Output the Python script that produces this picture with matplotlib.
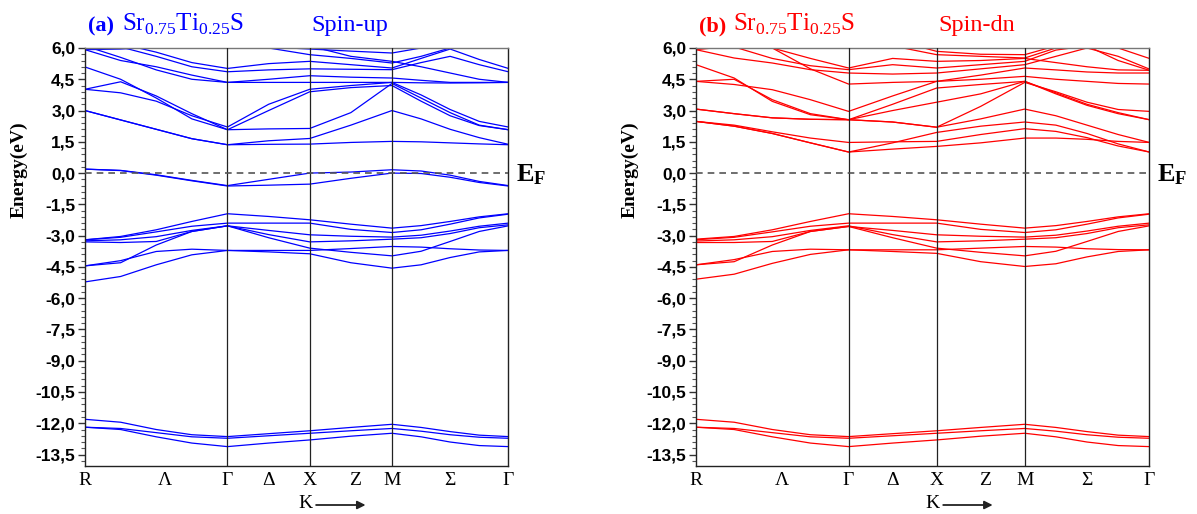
import numpy as np
import matplotlib
matplotlib.use("Agg")
import matplotlib.pyplot as plt
from matplotlib.ticker import FixedLocator, MultipleLocator

plt.rcParams['mathtext.fontset'] = 'custom'
plt.rcParams['mathtext.rm'] = 'Liberation Serif'
plt.rcParams['mathtext.bf'] = 'Liberation Serif:bold'

# ---------------- data ----------------
kpath_labels = ["R", "Γ", "X", "M", "Γ"]
seg_lengths = [np.sqrt(3), 1.0, 1.0, np.sqrt(2)]
seg_fracs = [[0, 0.25, 0.5, 0.75, 1.0], [0.5, 1.0], [0.5, 1.0], [0.25, 0.5, 0.75, 1.0]]
mid_labels = ["Λ", "Δ", "Z", "Σ"]
mid_label_fracs = [0.56, 0.5, 0.55, 0.5]

# energies (eV) at: R, .25, .5, .75, Γ | ΓX-mid, X | XM-mid, M | .25, .5, .75, Γ
cond_up = [
    [3.00, 2.55, 2.10, 1.65, 1.36, 1.38, 1.39, 1.47, 1.52, 1.50, 1.45, 1.40, 1.36],
    [3.00, 2.55, 2.10, 1.65, 1.36, 1.55, 1.66, 2.30, 3.00, 2.60, 2.10, 1.70, 1.38],
    [5.09, 4.50, 3.60, 2.60, 2.08, 2.12, 2.14, 2.90, 4.30, 3.60, 2.90, 2.30, 2.08],
    [4.02, 4.38, 3.70, 2.85, 2.08, 3.00, 3.90, 4.10, 4.20, 3.45, 2.75, 2.28, 2.08],
    [4.02, 3.85, 3.45, 2.75, 2.21, 3.30, 4.02, 4.20, 4.35, 3.75, 3.05, 2.48, 2.21],
    [5.92, 5.40, 5.10, 4.70, 4.35, 4.35, 4.35, 4.35, 4.35, 4.33, 4.32, 4.33, 4.35],
    [6.10, 5.55, 4.95, 4.50, 4.35, 4.50, 4.67, 4.60, 4.56, 4.45, 4.35, 4.35, 4.35],
    [6.30, 6.05, 5.60, 5.10, 4.86, 4.95, 5.00, 4.98, 4.96, 5.30, 5.60, 5.20, 4.86],
    [6.50, 6.20, 5.80, 5.30, 5.02, 5.25, 5.36, 5.20, 5.04, 5.50, 5.95, 5.45, 5.02],
    [5.92, 5.95, 6.05, 6.20, 6.30, 6.00, 5.68, 5.50, 5.28, 5.60, 6.00, 6.20, 6.40],
    [6.80, 6.60, 6.40, 6.30, 6.20, 6.05, 5.95, 5.85, 5.76, 6.00, 6.20, 6.40, 6.60],
    [6.90, 6.70, 6.50, 6.40, 6.40, 6.20, 6.10, 5.60, 5.36, 5.10, 4.80, 4.50, 4.35],
]
val_up = [
    [0.19, 0.13, -0.08, -0.35, -0.60, -0.30, 0.00, 0.05, 0.16, 0.10, -0.10, -0.40, -0.60],
    [0.19, 0.12, -0.10, -0.37, -0.62, -0.58, -0.53, -0.25, 0.00, -0.02, -0.20, -0.45, -0.62],
    [-3.20, -3.04, -2.72, -2.32, -1.95, -2.08, -2.24, -2.45, -2.64, -2.52, -2.32, -2.10, -1.95],
    [-3.20, -3.08, -2.82, -2.55, -2.40, -2.40, -2.40, -2.70, -2.85, -2.72, -2.45, -2.15, -1.97],
    [-3.30, -3.33, -3.28, -2.80, -2.53, -2.75, -2.96, -3.03, -3.07, -2.98, -2.78, -2.55, -2.40],
    [-3.25, -3.20, -3.05, -2.75, -2.53, -2.95, -3.30, -3.25, -3.17, -3.10, -2.90, -2.62, -2.48],
    [-4.45, -4.30, -3.45, -2.80, -2.53, -3.10, -3.60, -3.80, -3.97, -3.75, -3.28, -2.80, -2.53],
    [-4.45, -4.20, -3.76, -3.65, -3.71, -3.71, -3.71, -3.62, -3.52, -3.55, -3.63, -3.69, -3.71],
    [-5.22, -4.96, -4.40, -3.92, -3.71, -3.78, -3.87, -4.30, -4.56, -4.40, -4.05, -3.78, -3.71],
]
core = [
    [-11.81, -11.95, -12.30, -12.55, -12.64, -12.50, -12.36, -12.20, -12.05, -12.20, -12.40, -12.57, -12.64],
    [-12.19, -12.25, -12.45, -12.65, -12.72, -12.60, -12.48, -12.36, -12.25, -12.38, -12.55, -12.67, -12.72],
    [-12.19, -12.30, -12.65, -12.95, -13.12, -12.95, -12.80, -12.62, -12.48, -12.65, -12.90, -13.07, -13.12],
]
cond_dn = [
    [2.48, 2.25, 1.90, 1.45, 1.01, 1.15, 1.28, 1.45, 1.68, 1.68, 1.62, 1.52, 1.47],
    [2.48, 2.25, 1.90, 1.45, 1.01, 1.45, 1.95, 2.25, 2.45, 2.30, 1.90, 1.40, 1.01],
    [2.48, 2.30, 1.98, 1.68, 1.47, 1.50, 1.52, 1.85, 2.13, 2.00, 1.70, 1.30, 1.01],
    [3.07, 2.85, 2.65, 2.58, 2.56, 2.45, 2.20, 2.60, 3.07, 2.75, 2.30, 1.85, 1.47],
    [3.07, 2.85, 2.65, 2.58, 2.56, 2.45, 2.20, 3.20, 4.35, 3.90, 3.40, 3.05, 2.96],
    [4.40, 4.50, 3.52, 2.85, 2.56, 3.30, 4.08, 4.25, 4.40, 3.80, 3.25, 2.85, 2.56],
    [4.40, 4.25, 4.00, 3.52, 2.96, 3.70, 4.40, 4.50, 4.64, 4.50, 4.40, 4.30, 4.27],
    [5.20, 4.56, 3.44, 2.80, 2.56, 3.00, 3.40, 3.80, 4.40, 3.85, 3.30, 2.90, 2.56],
    [5.92, 5.52, 5.28, 4.96, 4.80, 4.75, 4.80, 5.00, 5.20, 5.60, 6.00, 5.60, 4.99],
    [6.80, 6.40, 6.00, 5.00, 4.27, 4.35, 4.40, 4.70, 5.04, 4.95, 4.85, 4.80, 4.80],
    [6.30, 6.05, 5.50, 5.15, 4.96, 5.20, 5.04, 5.20, 5.36, 5.90, 6.10, 5.40, 4.93],
    [6.60, 6.30, 6.00, 5.50, 5.04, 5.50, 5.36, 5.40, 5.50, 5.30, 5.10, 4.95, 4.93],
    [6.10, 6.00, 6.20, 6.50, 6.60, 6.10, 5.68, 5.60, 5.52, 6.00, 6.30, 6.00, 5.50],
    [5.92, 6.10, 6.40, 6.60, 6.80, 6.40, 5.84, 5.70, 5.68, 6.10, 6.50, 6.50, 6.50],
]
val_dn = [
    [-3.17, -3.04, -2.72, -2.32, -1.95, -2.08, -2.24, -2.45, -2.64, -2.52, -2.32, -2.10, -1.95],
    [-3.20, -3.08, -2.82, -2.55, -2.40, -2.40, -2.40, -2.70, -2.85, -2.72, -2.45, -2.15, -1.97],
    [-3.33, -3.33, -3.28, -2.80, -2.56, -2.75, -2.96, -3.03, -3.07, -2.98, -2.78, -2.55, -2.40],
    [-3.26, -3.20, -3.05, -2.75, -2.53, -2.95, -3.30, -3.25, -3.17, -3.10, -2.90, -2.62, -2.48],
    [-4.40, -4.25, -3.45, -2.80, -2.56, -3.10, -3.60, -3.80, -3.97, -3.75, -3.28, -2.80, -2.53],
    [-4.40, -4.15, -3.76, -3.65, -3.68, -3.68, -3.68, -3.60, -3.52, -3.55, -3.63, -3.67, -3.68],
    [-5.09, -4.85, -4.33, -3.90, -3.68, -3.76, -3.85, -4.25, -4.48, -4.35, -4.02, -3.76, -3.68],
]

# ---------------- k coordinates ----------------
sym_k = np.concatenate([[0], np.cumsum(seg_lengths)])
ks = []
for i, fr in enumerate(seg_fracs):
    for f in fr:
        ks.append(sym_k[i] + f * seg_lengths[i])
ks = np.array(ks)

W, H = 1197, 514
fig = plt.figure(figsize=(W / 100, H / 100), dpi=100)

serif = 'Liberation Serif'
sans = 'Liberation Sans'


def fmt(v):
    s = f"{v:.1f}".replace('.', ',')
    return "0,0" if s in ("-0,0",) else s


def panel(left_px, width_px, bands, color, tag, spin):
    ax = fig.add_axes([left_px / W, 1 - 466 / H, width_px / W, 418 / H])
    for group in bands:
        for b in group:
            ax.plot(ks, b, color=color, lw=0.9, solid_joinstyle='round')
    for kx in sym_k[1:-1]:
        ax.axvline(kx, color='#222222', lw=0.9, zorder=3)
    ax.axhline(0, color='#555555', lw=1.2, ls=(0, (4, 3)), zorder=3)
    ax.set_xlim(0, sym_k[-1])
    ax.set_ylim(-14.05, 6.0)
    majors = np.arange(-13.5, 6.01, 1.5)
    ax.yaxis.set_major_locator(FixedLocator(majors))
    ax.set_yticklabels([fmt(v) for v in majors], fontfamily=sans,
                       fontweight='bold', fontsize=12.5)
    ax.yaxis.set_minor_locator(MultipleLocator(0.3))
    ax.tick_params(axis='y', which='major', length=5, width=1.0, color='#333333', pad=2)
    ax.tick_params(axis='y', which='minor', length=3, width=0.8, color='#555555')
    xt = list(sym_k)
    xl = list(kpath_labels)
    for i, (lab, fr) in enumerate(zip(mid_labels, mid_label_fracs)):
        xt.append(sym_k[i] + fr * seg_lengths[i])
        xl.append(lab)
    ax.set_xticks(xt)
    ax.set_xticklabels(xl, fontfamily=serif, fontsize=14)
    ax.tick_params(axis='x', length=0, pad=4)
    for s in ax.spines.values():
        s.set_linewidth(1.0)
        s.set_color('#222222')
    ax.spines['top'].set_color('#777777')
    # texts
    x0 = left_px
    fig.text((x0 + 3) / W, 1 - 31 / H, tag, color=color, fontfamily=serif,
             fontweight='bold', fontsize=16)
    fig.text((x0 + 37) / W, 1 - 31 / H, r"Sr$_{0.75}$Ti$_{0.25}$S", color=color,
             fontfamily=serif, fontsize=18)
    fig.text((x0 + width_px * 0.535) / W, 1 - 31 / H, spin, color=color,
             fontfamily=serif, fontsize=17.5)
    fig.text((x0 - 66) / W, 1 - 170 / H, "Energy(eV)", rotation=90, ha='center',
             va='center', fontfamily=serif, fontweight='bold', fontsize=14)
    fig.text((x0 + width_px + 8) / W, 1 - 174 / H, r"$\mathbf{E_F}$", ha='left',
             va='center', fontsize=19, color='black')
    kx_px = x0 + width_px * 0.537
    fig.text(kx_px / W, 1 - 504 / H, "K", ha='right', va='center',
             fontfamily=serif, fontsize=14)
    fig.add_artist(matplotlib.patches.FancyArrowPatch(
        ((kx_px + 1) / W, 1 - 505 / H), ((kx_px + 56) / W, 1 - 505 / H),
        transform=fig.transFigure, arrowstyle='-|>', mutation_scale=12,
        color='#222222', lw=1.3))
    return ax


panel(85, 423.3, [cond_up, val_up, core], '#0000FF', "(a)", "Spin-up")
panel(696, 453.3, [cond_dn, val_dn, core], '#FF0000', "(b)", "Spin-dn")

fig.savefig("out.png", dpi=100)
